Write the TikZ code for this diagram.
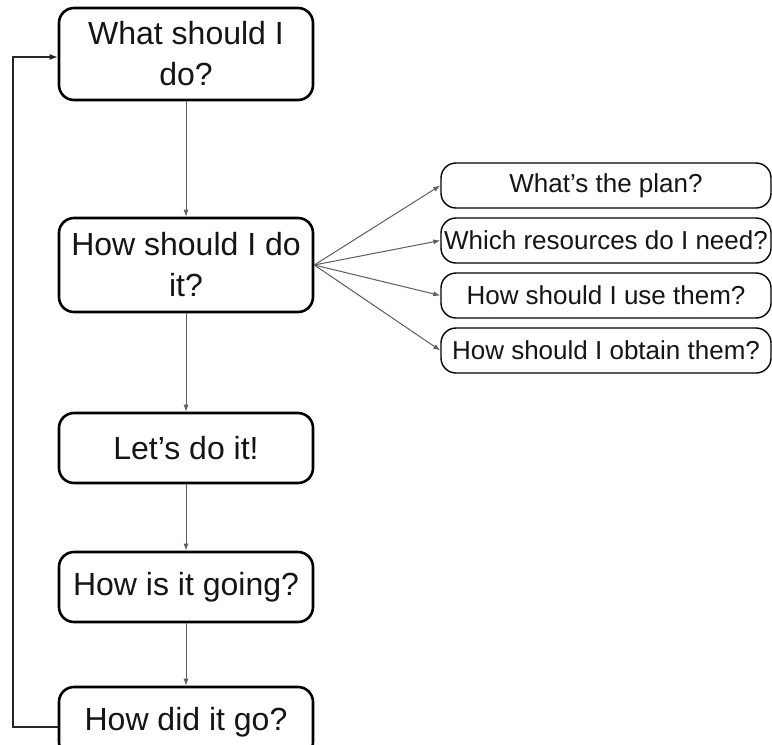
\documentclass[tikz,border=0pt]{standalone}
\usepackage{fontspec}
\setmainfont{Liberation Sans}
\usetikzlibrary{arrows.meta}
\definecolor{txt}{HTML}{151515}
\definecolor{conn}{HTML}{5E5E5E}
\tikzset{
  mainbox/.style={draw=black, line width=2.6pt, rounded corners=15pt, minimum width=254pt,
    align=center, text=txt, font=\fontsize{32}{41}\selectfont, inner sep=0pt},
  subbox/.style={draw=black, line width=1.4pt, rounded corners=15pt, minimum width=330pt,
    minimum height=45pt, align=center, text=txt, font=\fontsize{26}{30}\selectfont, inner sep=0pt},
  conn/.style={draw=conn, line width=1pt, -{Latex[length=7pt,width=5pt]}},
  loopconn/.style={draw=black!85, line width=1.3pt, -{Latex[length=8pt,width=6pt]}}
}
\begin{document}
\begin{tikzpicture}[x=1pt,y=-1pt]
\clip (0,0) rectangle (772,745);
\fill[white] (0,0) rectangle (772,745);
\node[mainbox, minimum height=92pt] (b1) at (186,54) {What should I\\do?};
\node[mainbox, minimum height=94pt] (b2) at (186,265) {How should I do\\it?};
\node[mainbox, minimum height=70pt] (b3) at (186,448) {Let’s do it!};
\node[mainbox, minimum height=70pt] (b4) at (186,587) {How is it going?};
\node[mainbox, minimum height=70pt] (b5) at (186,722) {How did it go?};
\node[subbox] (s1) at (606,185.5) {What’s the plan?};
\node[subbox] (s2) at (606,240.5) {Which resources do I need?};
\node[subbox] (s3) at (606,295.5) {How should I use them?};
\node[subbox] (s4) at (606,350.5) {How should I obtain them?};
\draw[conn] (b1) -- (b2);
\draw[conn] (b2) -- (b3);
\draw[conn] (b3) -- (b4);
\draw[conn] (b4) -- (b5);
\foreach \s in {s1,s2,s3,s4}{\draw[conn] (b2.east) -- (\s.west);}
\coordinate (lp) at (13,717);
\draw[loopconn] ([yshift=-5pt]b5.west) -- ([yshift=-5pt]b5.west -| lp) |- ([yshift=-3pt]b1.west);
\end{tikzpicture}
\end{document}
